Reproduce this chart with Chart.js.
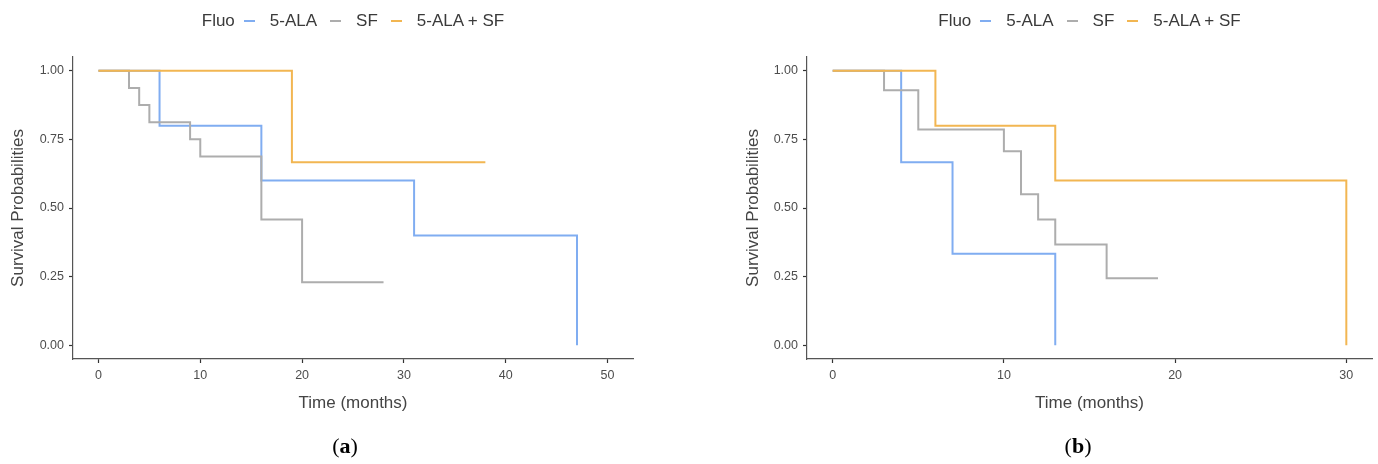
<!DOCTYPE html>
<html>
<head>
<meta charset="utf-8">
<script src="https://cdn.jsdelivr.net/npm/chart.js@4.4.1/dist/chart.umd.min.js"></script>
<style>
  html, body { margin: 0; padding: 0; background: #fff; }
  #wrap { position: relative; width: 1378px; height: 464px; overflow: hidden; }
  .panel { position: absolute; top: 0; width: 689px; height: 464px; }
  .legend {
    position: absolute; top: 11px; display: flex; align-items: center; justify-content: center;
    font-family: "Liberation Sans", Arial, sans-serif; font-size: 17px; color: #3a3a3a; white-space: nowrap;
  }
  .legend .key { display: inline-block; width: 11px; height: 2px; margin: 0 15px 0 0; }
  .legend .lab { margin-right: 13px; }
  .legend .ttl { margin-right: 9px; }
  .caption {
    position: absolute; top: 433px; width: 100px; text-align: center;
    font-family: "Liberation Serif", "DejaVu Serif", serif; font-size: 22px; color: #000;
  }
  .caption b { font-weight: bold; }
</style>
</head>
<body>
<div id="wrap">
  <div class="panel" style="left:0"><canvas id="chartA" width="689" height="464"></canvas></div>
  <div class="panel" style="left:689px"><canvas id="chartB" width="689" height="464"></canvas></div>
  <div class="legend" id="legendA" style="left:73px;width:560px"></div>
  <div class="legend" id="legendB" style="left:807px;width:565px"></div>
  <div class="caption" style="left:295px">(<b>a</b>)</div>
  <div class="caption" style="left:1028px">(<b>b</b>)</div>
</div>
<script>
// legend / series
const legendTitle = 'Fluo';
const seriesNames = ['5-ALA', 'SF', '5-ALA + SF'];
const seriesColors = ['#80adf1', '#adadad', '#f2b652'];

const yTicks = [0, 0.25, 0.5, 0.75, 1];

// panel (a)
const xTicksA = [0, 10, 20, 30, 40, 50];
const alaTimeA = [0, 6, 16, 31, 47];
const alaSurvA = [1, 0.8, 0.6, 0.4, 0];
const sfTimeA = [0, 3, 4, 5, 9, 10, 16, 20, 28];
const sfSurvA = [1, 0.9375, 0.875, 0.8125, 0.75, 0.6875, 0.4583, 0.2292, 0.2292];
const bothTimeA = [0, 19, 38];
const bothSurvA = [1, 0.6667, 0.6667];

// panel (b)
const xTicksB = [0, 10, 20, 30];
const alaTimeB = [0, 4, 7, 13];
const alaSurvB = [1, 0.6667, 0.3333, 0];
const sfTimeB = [0, 3, 5, 10, 11, 12, 13, 16, 19];
const sfSurvB = [1, 0.9286, 0.7857, 0.7071, 0.55, 0.4583, 0.3667, 0.2444, 0.2444];
const bothTimeB = [0, 6, 13, 30];
const bothSurvB = [1, 0.8, 0.6, 0];

const tickFont = { family: 'Liberation Sans', size: 12.5 };
const titleFont = { family: 'Liberation Sans', size: 17 };

function buildLegend(id) {
    const el = document.getElementById(id);
    let html = `<span class="ttl">${legendTitle}</span>`;
    seriesNames.forEach((name, i) => {
        html += `<span class="key" style="background:${seriesColors[i]}"></span>`;
        html += `<span class="lab"${i === seriesNames.length - 1 ? ' style="margin-right:0"' : ''}>${name}</span>`;
    });
    el.innerHTML = html;
}

function toPoints(times, surv) {
    return times.map((t, i) => ({ x: t, y: surv[i] }));
}

function makeChart(canvasId, groups, xTicks, xMin, xMax, area) {
    const datasets = groups.map((g, i) => ({
        label: seriesNames[i],
        data: toPoints(g[0], g[1]),
        borderColor: seriesColors[i],
        borderWidth: 2,
        pointRadius: 0,
        stepped: 'before',
        fill: false,
        order: groups.length - i   // later groups drawn on top, like ggplot
    }));

    return new Chart(document.getElementById(canvasId), {
        type: 'line',
        data: { datasets: datasets },
        options: {
            responsive: false,
            animation: false,
            layout: { padding: { top: area.top, right: area.right, left: 0, bottom: 0 } },
            plugins: { legend: { display: false }, tooltip: { enabled: false } },
            scales: {
                x: {
                    type: 'linear',
                    min: xMin,
                    max: xMax,
                    afterBuildTicks: s => { s.ticks = xTicks.map(v => ({ value: v })); },
                    afterFit: s => { s.height = area.xHeight; },
                    grid: { drawOnChartArea: false, tickLength: 4, tickColor: '#333', tickWidth: 1.2 },
                    border: { display: true, color: '#555', width: 1.2 },
                    ticks: { color: '#4d4d4d', font: tickFont, padding: 5, maxRotation: 0 },
                    title: { display: true, text: 'Time (months)', color: '#444', font: titleFont, padding: { top: 0, bottom: 50 } }
                },
                y: {
                    type: 'linear',
                    min: -0.05,
                    max: 1.05,
                    afterBuildTicks: s => { s.ticks = yTicks.map(v => ({ value: v })); },
                    afterFit: s => { s.width = area.left; },
                    grid: { drawOnChartArea: false, tickLength: 4, tickColor: '#333', tickWidth: 1.2 },
                    border: { display: true, color: '#555', width: 1.2 },
                    ticks: { color: '#4d4d4d', font: tickFont, padding: 5, callback: v => v.toFixed(2) },
                    title: { display: true, text: 'Survival Probabilities', color: '#444', font: titleFont, padding: { top: area.yTitlePad, bottom: 0 } }
                }
            }
        }
    });
}

buildLegend('legendA');
buildLegend('legendB');

makeChart('chartA',
    [[alaTimeA, alaSurvA], [sfTimeA, sfSurvA], [bothTimeA, bothSurvA]],
    xTicksA, -2.5, 52.5,
    { top: 57, right: 56, left: 73, xHeight: 105, yTitlePad: 8 });

makeChart('chartB',
    [[alaTimeB, alaSurvB], [sfTimeB, sfSurvB], [bothTimeB, bothSurvB]],
    xTicksB, -1.5, 31.5,
    { top: 57, right: 6, left: 118, xHeight: 105, yTitlePad: 54 });
</script>
</body>
</html>
